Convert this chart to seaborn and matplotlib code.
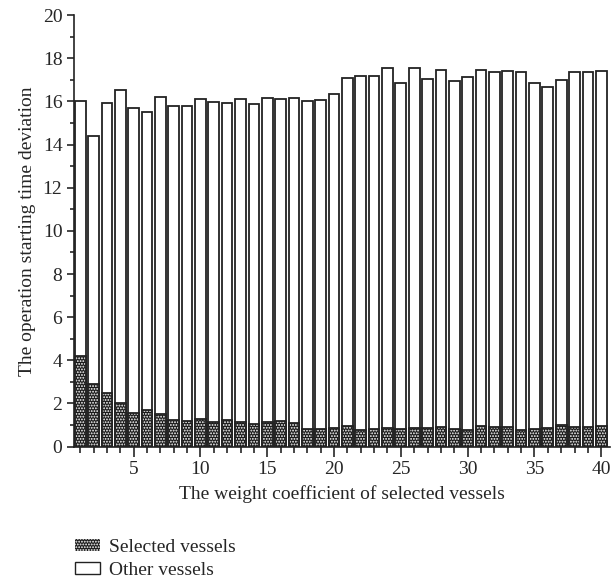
import matplotlib
matplotlib.use("Agg")
import matplotlib.pyplot as plt
from matplotlib.patches import Patch
from matplotlib.ticker import MultipleLocator
import seaborn as sns
import numpy as np

weight = list(range(1, 41))
total_deviation = [16.00, 14.42, 15.95, 16.52, 15.72, 15.51, 16.21, 15.79, 15.78, 16.13,
                   15.98, 15.93, 16.12, 15.90, 16.16, 16.12, 16.16, 16.01, 16.06, 16.33,
                   17.08, 17.18, 17.18, 17.56, 16.84, 17.57, 17.05, 17.48, 16.97, 17.12,
                   17.48, 17.37, 17.40, 17.37, 16.86, 16.66, 17.01, 17.35, 17.35, 17.40]
selected = [4.20, 2.89, 2.50, 2.02, 1.54, 1.68, 1.51, 1.23, 1.17, 1.26,
            1.12, 1.23, 1.12, 1.03, 1.12, 1.18, 1.09, 0.81, 0.81, 0.87,
            0.94, 0.78, 0.81, 0.87, 0.81, 0.86, 0.84, 0.90, 0.81, 0.78,
            0.94, 0.90, 0.89, 0.76, 0.81, 0.86, 0.98, 0.89, 0.90, 0.95]
series_labels = ["Selected vessels", "Other vessels"]

sns.set_style("ticks")
plt.rcParams["font.family"] = ["Liberation Serif", "DejaVu Serif"]
plt.rcParams["hatch.linewidth"] = 0.9

fs = 14
fig = plt.figure(figsize=(6.13, 5.86), dpi=100)
ax = fig.add_axes([0.121, 0.238, 0.874, 0.736])

bw = 0.8
sns.barplot(x=weight, y=total_deviation, native_scale=True, color="white", saturation=1,
            edgecolor="#222222", linewidth=1.3, width=bw, errorbar=None, ax=ax)
sns.barplot(x=weight, y=selected, native_scale=True, color="#1a1a1a", saturation=1,
            edgecolor="white", linewidth=0, hatch="......", width=bw, errorbar=None, ax=ax)
sns.barplot(x=weight, y=selected, native_scale=True, fill=False,
            edgecolor="#222222", linewidth=1.3, width=bw, errorbar=None, ax=ax)

ax.set_xlim(0.55, 40.65)
ax.set_ylim(0, 20)
ax.xaxis.set_major_locator(MultipleLocator(5))
ax.xaxis.set_minor_locator(MultipleLocator(1))
ax.yaxis.set_major_locator(MultipleLocator(2))
ax.yaxis.set_minor_locator(MultipleLocator(1))
ax.set_xticks([5, 10, 15, 20, 25, 30, 35, 40])
ax.set_xticklabels(["5", "10", "15", "20", "25", "30", "35", "40"])
ax.tick_params(axis="x", which="major", length=7, width=1.2, labelsize=fs, direction="out")
ax.tick_params(axis="x", which="minor", length=4, width=1.2, direction="out")
ax.tick_params(axis="y", which="major", length=5, width=1.2, labelsize=fs, direction="out")
ax.tick_params(axis="y", which="minor", length=3, width=1.2, direction="out")
for s in ["top", "right"]:
    ax.spines[s].set_visible(False)
for s in ["left", "bottom"]:
    ax.spines[s].set_linewidth(1.2)
    ax.spines[s].set_color("#222222")

ax.set_xlabel("The weight coefficient of selected vessels", fontsize=fs, labelpad=5)
ax.set_ylabel("The operation starting time deviation", fontsize=fs, labelpad=5)

handles = [Patch(facecolor="#1a1a1a", edgecolor="white", hatch="......", linewidth=0, label=series_labels[0]),
           Patch(facecolor="white", edgecolor="#222222", linewidth=1.0, label=series_labels[1])]
fig.legend(handles=handles, loc="upper left", bbox_to_anchor=(0.11, 0.094), frameon=False,
           fontsize=fs, handlelength=1.3, handleheight=0.55, labelspacing=0.33, handletextpad=0.45,
           borderaxespad=0)

fig.savefig("out.png", dpi=100)
